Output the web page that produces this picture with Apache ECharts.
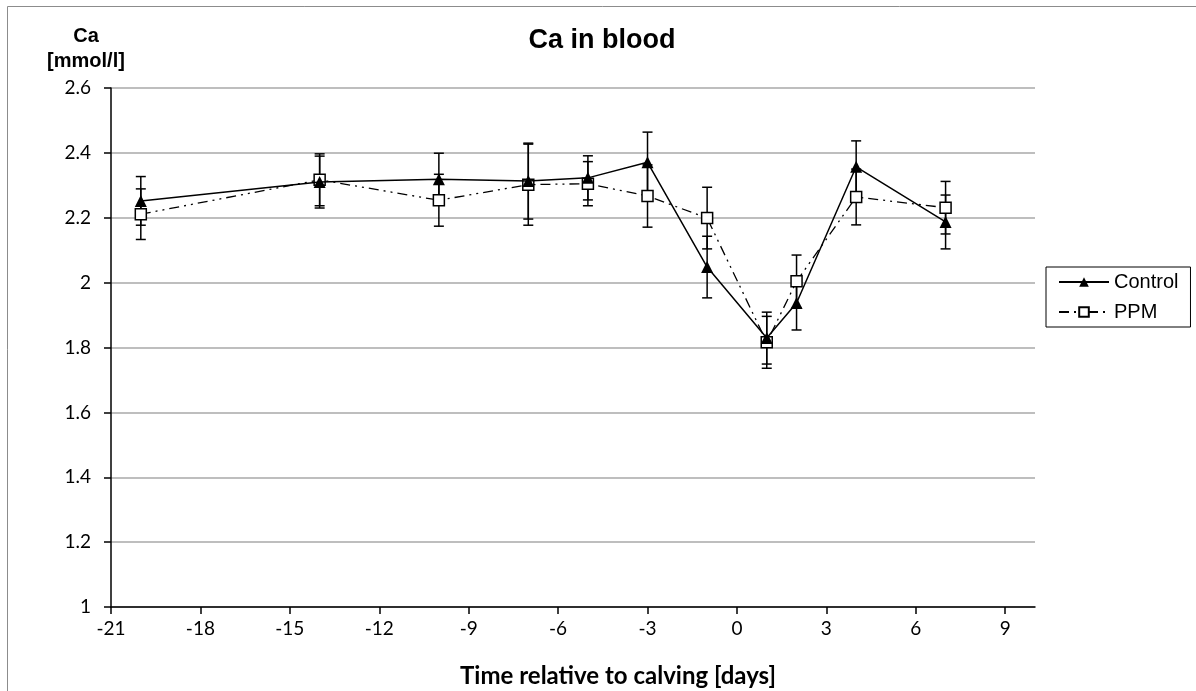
<!DOCTYPE html>
<html>
<head>
<meta charset="utf-8">
<title>Ca in blood</title>
<script src="https://cdn.jsdelivr.net/npm/echarts@6/dist/echarts.min.js"></script>
<style>
  html, body { margin: 0; padding: 0; background: #fff; }
  #chart { width: 1196px; height: 691px; }
</style>
</head>
<body>
<div id="chart"></div>
<script>
// days relative to calving
const days = [-20, -14, -10, -7, -5, -3, -1, 1, 2, 4, 7];
const control = [2.252, 2.310, 2.319, 2.313, 2.323, 2.371, 2.048, 1.829, 1.937, 2.357, 2.187];
const controlErr = [0.075, 0.080, 0.080, 0.117, 0.068, 0.093, 0.095, 0.080, 0.083, 0.080, 0.083];
const ppm = [2.211, 2.317, 2.254, 2.302, 2.305, 2.267, 2.199, 1.816, 2.004, 2.264, 2.231];
const ppmErr = [0.078, 0.080, 0.080, 0.125, 0.068, 0.096, 0.095, 0.080, 0.081, 0.086, 0.081];
const xTicks = [-21, -18, -15, -12, -9, -6, -3, 0, 3, 6, 9];

const pairs = (ys) => days.map((d, i) => [d, ys[i]]);
const bars = (ys, es) => days.map((d, i) => [d, ys[i] - es[i], ys[i] + es[i]]);

// error bar with caps
function errorBar(params, api) {
  const lo = api.coord([api.value(0), api.value(1)]);
  const hi = api.coord([api.value(0), api.value(2)]);
  const w = 5;
  const st = { stroke: "#000", lineWidth: 1.5 };
  return {
    type: "group",
    children: [
      { type: "line", shape: { x1: lo[0], y1: lo[1], x2: hi[0], y2: hi[1] }, style: st },
      { type: "line", shape: { x1: lo[0] - w, y1: lo[1], x2: lo[0] + w, y2: lo[1] }, style: st },
      { type: "line", shape: { x1: hi[0] - w, y1: hi[1], x2: hi[0] + w, y2: hi[1] }, style: st },
    ],
  };
}

const tickFont = { color: "#000", fontFamily: "Lato", fontSize: 19 };

const chart = echarts.init(document.getElementById("chart"), null, { renderer: "canvas" });
chart.setOption({
  animation: false,
  backgroundColor: "#fff",
  title: {
    text: "Ca in blood",
    left: 597,
    top: 22,
    textAlign: "center",
    textStyle: { fontFamily: "Liberation Sans", fontWeight: "bold", fontSize: 27, color: "#000" },
  },
  graphic: [
    {
      type: "rect",
      silent: true,
      shape: { x: 7.5, y: 6.5, width: 1200, height: 700 },
      style: { fill: null, stroke: "#8c8c8c", lineWidth: 1 },
    },
    {
      type: "text",
      x: 86, y: 24,
      style: {
        text: "Ca\n[mmol/l]",
        fill: "#000",
        align: "center",
        font: "bold 20px 'Liberation Sans'",
        lineHeight: 25,
      },
    },
    {
      type: "text",
      x: 618, y: 676,
      style: {
        text: "Time relative to calving [days]",
        fill: "#000",
        align: "center",
        verticalAlign: "middle",
        font: "bold 24px Lato",
      },
    },
  ],
  legend: {
    orient: "vertical",
    left: 1046,
    top: 267,
    data: ["Control", "PPM"],
    itemWidth: 50,
    itemHeight: 12,
    itemGap: 8,
    padding: [4, 12, 4, 12],
    borderColor: "#000",
    borderWidth: 1,
    textStyle: { fontFamily: "Liberation Sans", fontSize: 20, color: "#000", lineHeight: 22 },
  },
  grid: { left: 111, right: 161, top: 88, bottom: 84 },
  xAxis: {
    type: "value",
    min: -21,
    max: 10,
    interval: 3,
    axisLine: { onZero: false, lineStyle: { color: "#000", width: 1.5 } },
    axisTick: { length: 7, lineStyle: { color: "#000", width: 1.5 }, customValues: xTicks },
    axisLabel: { ...tickFont, margin: 12, customValues: xTicks },
    splitLine: { show: false },
  },
  yAxis: {
    type: "value",
    min: 1,
    max: 2.6,
    interval: 0.2,
    axisLine: { show: true, onZero: false, lineStyle: { color: "#000", width: 1.5 } },
    axisTick: { show: true, length: 7, lineStyle: { color: "#000", width: 1.5 } },
    axisLabel: { ...tickFont, margin: 20 },
    splitLine: { lineStyle: { color: "#a8a8a8", width: 1.5 } },
  },
  series: [
    {
      name: "PPM err",
      type: "custom",
      renderItem: errorBar,
      data: bars(ppm, ppmErr),
      z: 2,
    },
    {
      name: "Control err",
      type: "custom",
      renderItem: errorBar,
      data: bars(control, controlErr),
      z: 2,
    },
    {
      name: "PPM",
      type: "line",
      data: pairs(ppm),
      symbol: "rect",
      symbolSize: 11,
      showAllSymbol: true,
      lineStyle: { color: "#000", width: 1.3, type: [10, 5, 2, 5, 2, 5] },
      itemStyle: { color: "#fff", borderColor: "#000", borderWidth: 1.5 },
      z: 3,
    },
    {
      name: "Control",
      type: "line",
      data: pairs(control),
      symbol: "triangle",
      symbolSize: 12,
      showAllSymbol: true,
      lineStyle: { color: "#000", width: 1.5 },
      itemStyle: { color: "#000" },
      z: 4,
    },
  ],
});
</script>
</body>
</html>
